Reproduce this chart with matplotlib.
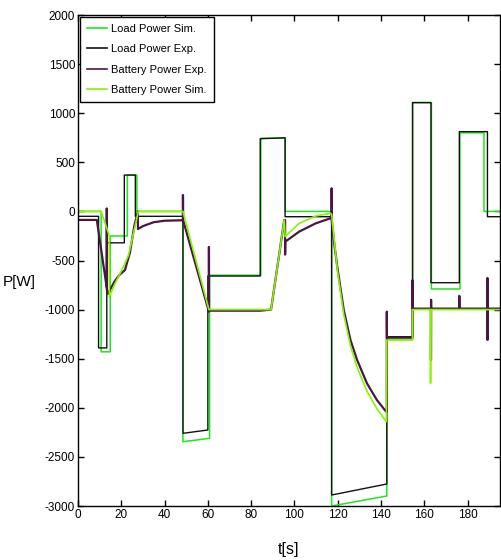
import matplotlib
matplotlib.use("Agg")
import matplotlib.pyplot as plt

plt.rcParams['font.family'] = ['Liberation Sans', 'DejaVu Sans']
plt.rcParams['axes.unicode_minus'] = False

# ---- data (time [s], power [W]) ----
load_sim_t = [0, 10.7, 10.7, 14.9, 14.9, 22.8, 22.8, 27.2, 27.2, 48.5, 48.5, 60.8, 60.8,
              84.5, 84.5, 95.7, 95.7, 117.2, 117.2, 142.7, 142.7, 154.6, 154.6, 163.3, 163.3,
              176.5, 176.5, 187.6, 187.6, 195]
load_sim_p = [0, 0, -1430, -1430, -250, -250, 370, 370, 0, 0, -2345, -2311, -650,
              -650, 745, 745, 0, 0, -3000, -2898, -1300, -1300, 1110, 1110, -790,
              -790, 800, 800, 0, 0]

load_exp_t = [0, 9.5, 9.5, 13.3, 13.3, 21.4, 21.4, 26.5, 26.5, 48.5, 48.5, 60.0, 60.0,
              84.2, 84.2, 95.7, 95.7, 117.2, 117.2, 142.7, 142.7, 154.6, 154.6, 163.1, 163.1,
              176.2, 176.2, 189.2, 189.2, 195]
load_exp_p = [-50, -50, -1390, -1390, -320, -320, 370, 370, -50, -50, -2260, -2226, -658,
              -658, 740, 750, -54, -54, -2888, -2776, -1276, -1276, 1107, 1107, -726,
              -726, 812, 812, -54, -54]

bat_exp_t = [0, 8.7, 13.3, 13.3, 13.35, 13.8, 15, 17, 19, 21.7, 24, 26, 27.7, 27.7, 30, 35, 40,
             48.5, 48.5, 48.55, 60.5, 60.5, 60.55, 84.2, 89.2, 95.3, 95.7, 95.7, 95.8,
             102.2, 109.8, 116.7, 117.2, 117.2, 117.25, 118.2, 119.8, 122.8, 125.9, 129.0,
             133.5, 138.1, 142.4, 142.7, 142.7, 142.75, 154.6, 154.6, 154.65, 163.1, 163.1,
             163.15, 163.2, 176.2, 176.2, 176.25, 189.2, 189.2, 189.25, 189.3, 195]
bat_exp_p = [-87, -87, -780, 30, -800, -840, -790, -710, -650, -597, -420, -150, 0, -180, -150, -110, -95,
             -90, 167, -87, -1021, -362, -1011, -1011, -1000, -88, -88, -440, -308,
             -206, -122, -70, -70, 235, -88, -293, -563, -1004, -1310, -1514,
             -1750, -1920, -2040, -2040, -1021, -1285, -1285, -700, -990, -990, -1513,
             -900, -990, -990, -860, -990, -990, -678, -1309, -990, -990]

bat_sim_t = [0, 10.7, 14.5, 14.5, 17, 21, 23.3, 27.9, 48.5, 60.5, 89.2, 95.3, 95.7, 102.2,
             109.8, 116.7, 117.2, 119.8, 122.8, 125.9, 129.0, 133.5, 138.1, 142.5, 142.7,
             154.6, 154.6, 162.9, 162.9, 163.0, 195]
bat_sim_p = [0, 0, -250, -870, -740, -563, -450, 0, 0, -1000, -1000, -88, -257, -122,
             -47, -20, -30, -590, -1050, -1370, -1590, -1830, -2010, -2141, -1310,
             -1310, -1000, -1000, -1750, -1000, -1000]

x_ticks = [0, 20, 40, 60, 80, 100, 120, 140, 160, 180]
y_ticks = [-3000, -2500, -2000, -1500, -1000, -500, 0, 500, 1000, 1500, 2000]

# ---- figure ----
fig = plt.figure(figsize=(5.02, 5.6), dpi=100)
ax = fig.add_axes([78/502, 1 - 506/560, (500 - 78)/502, (506 - 15)/560])

ax.plot(load_sim_t, load_sim_p, color='#1ee61e', lw=1.1, label='Load Power Sim.')
ax.plot(load_exp_t, load_exp_p, color='#111111', lw=1.0, label='Load Power Exp.')
ax.plot(bat_exp_t, bat_exp_p, color='#4a1648', lw=1.6, label='Battery Power Exp.')
ax.plot(bat_sim_t, bat_sim_p, color='#86f500', lw=1.2, label='Battery Power Sim.')

ax.set_xlim(0, 195)
ax.set_ylim(-3000, 2000)
ax.set_xticks(x_ticks)
ax.set_yticks(y_ticks)
ax.tick_params(direction='in', top=True, right=True, length=4, width=1,
               labelsize=8.5, pad=2)
for s in ax.spines.values():
    s.set_linewidth(1.0)

ax.set_xlabel('t[s]', fontsize=11.5, labelpad=15)
ax.set_ylabel('P[W]', fontsize=11, rotation=0, va='center', ha='center')
ax.yaxis.set_label_coords(-0.14, 0.456)

leg = ax.legend(loc='upper left', bbox_to_anchor=(0.005, 0.996), borderaxespad=0,
                fontsize=8, frameon=True, fancybox=False, framealpha=1,
                edgecolor='black', handlelength=1.8, handletextpad=0.4,
                labelspacing=0.95, borderpad=0.6)
leg.get_frame().set_linewidth(1.0)
for l in leg.get_lines():
    l.set_linewidth(1.2)

fig.savefig('out.png', dpi=100)
